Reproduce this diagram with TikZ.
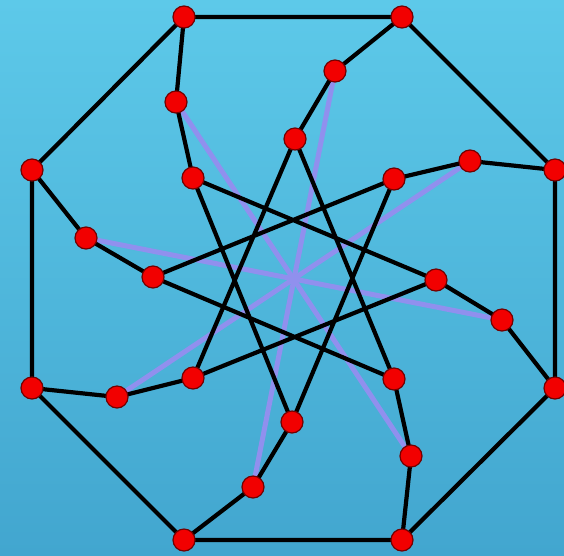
\documentclass[tikz,border=0pt]{standalone}
\begin{document}
\begin{tikzpicture}[x=1pt,y=-1pt,
  vtx/.style={circle,fill=red!95!black,draw=red!45!black,line width=1.2pt,minimum size=22pt,inner sep=0pt},
  edge/.style={line width=4.2pt,black},
  spoke/.style={line width=5pt,draw=spokecol}]
\definecolor{bgtop}{HTML}{5DC9E9}
\definecolor{bgbot}{HTML}{42A6CF}
\definecolor{spokecol}{HTML}{9090EE}
\fill[top color=bgtop,bottom color=bgbot] (0,0) rectangle (564,555);
\useasboundingbox (0,0) rectangle (564,555);
% coordinates
\coordinate (o0) at (184,17);
\coordinate (o1) at (402,17);
\coordinate (o2) at (555,170);
\coordinate (o3) at (555,388);
\coordinate (o4) at (402,540);
\coordinate (o5) at (184,540);
\coordinate (o6) at (32,388);
\coordinate (o7) at (32,170);
\coordinate (m0) at (176,102);
\coordinate (m1) at (335,71);
\coordinate (m2) at (470,161);
\coordinate (m3) at (502,320);
\coordinate (m4) at (411,456);
\coordinate (m5) at (253,487);
\coordinate (m6) at (117,397);
\coordinate (m7) at (86,238);
\coordinate (i0) at (193,178);
\coordinate (i1) at (295,139);
\coordinate (i2) at (394,179);
\coordinate (i3) at (436,280);
\coordinate (i4) at (394,379);
\coordinate (i5) at (292,422);
\coordinate (i6) at (193,378);
\coordinate (i7) at (153,277);
% spokes
\foreach \a/\b in {0/4,1/5,2/6,3/7}
  \draw[spoke] (m\a) -- (m\b);
% outer octagon
\draw[edge] (o0)--(o1)--(o2)--(o3)--(o4)--(o5)--(o6)--(o7)--cycle;
% outer-middle-inner
\foreach \k in {0,...,7}
  \draw[edge] (o\k) -- (m\k) -- (i\k);
% star {8/3}
\draw[edge] (i0)--(i3)--(i6)--(i1)--(i4)--(i7)--(i2)--(i5)--cycle;
% nodes
\foreach \k in {0,...,7} {
  \node[vtx] (O\k) at (o\k) {};
  \node[vtx] (M\k) at (m\k) {};
  \node[vtx] (I\k) at (i\k) {};
}
\end{tikzpicture}
\end{document}
